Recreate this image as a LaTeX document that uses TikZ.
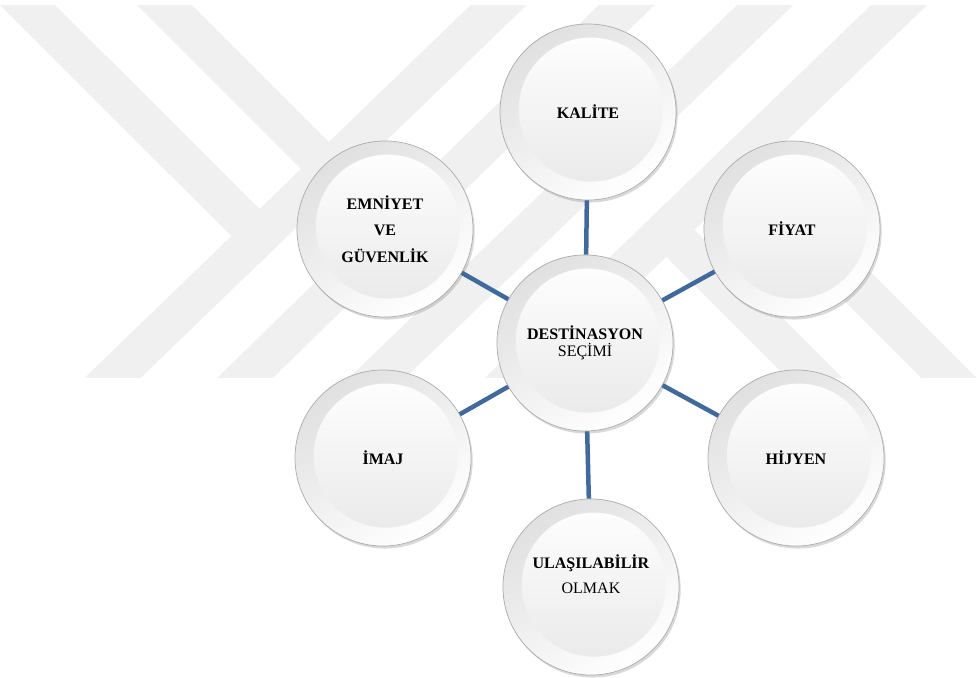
\documentclass[tikz,border=0pt]{standalone}
\usepackage{fontspec}
\setmainfont{Liberation Serif}
\usetikzlibrary{shadows}
\definecolor{spokeblue}{RGB}{64,106,156}
\definecolor{markgray}{RGB}{240,240,240}
\tikzstyle{bubble} = [circle, minimum size=4.4cm, inner sep=0pt, align=center, draw=gray!65,
line width=0.5pt, shade, top color=gray!24, bottom color=white, shading angle=35,
drop shadow={opacity=0.3, shadow xshift=1.2pt, shadow yshift=-1.8pt},
path picture={\shade[top color=white, bottom color=gray!18]
([shift={(0.07cm,0.06cm)}]path picture bounding box.center) circle (1.8cm);},
font=\fontsize{11.4}{13}\selectfont]
\tikzstyle{spoke} = [line width=3.2pt, draw=spokeblue]
\tikzstyle{markband} = [line width=0.975cm, draw=markgray]

\begin{document}
\begin{tikzpicture}[x=0.025cm, y=-0.025cm]
    \useasboundingbox (0,0) rectangle (977,677);

    % faint background mark
    \begin{scope}
        \clip (0,5) rectangle (977,377);
        \draw[markband] (524.6,-20) -- (89.7,400);
        \draw[markband] (652.2,-20) -- (222.5,400);
        \draw[markband] (791.2,-20) -- (354,400);
        \draw[markband] (925,-20) -- (490,400);
        \draw[markband] (2.5,-20) -- (273,250);
        \draw[markband] (139.5,-20) -- (342.5,183);
        \draw[markband] (653,216) -- (837,400);
        \draw[markband] (721,150) -- (971,400);
    \end{scope}

    \node (centre) [bubble] at (585,343) {\textbf{DESTİNASYON}\\[-1pt]SEÇİMİ};
    \node (kalite) [bubble] at (588,112) {\textbf{KALİTE}};
    \node (fiyat) [bubble] at (792,229) {\textbf{FİYAT}};
    \node (hijyen) [bubble] at (796,458) {\textbf{HİJYEN}};
    \node (ulasim) [bubble] at (591,587) {\textbf{ULAŞILABİLİR}\\[4.8pt]OLMAK\\[2pt]\strut};
    \node (imaj) [bubble] at (383,458) {\textbf{İMAJ}};
    \node (emniyet) [bubble] at (385,229) {\textbf{EMNİYET}\\[6pt]\textbf{VE}\\[6pt]\textbf{GÜVENLİK}};

    \draw[spoke] (centre) -- (kalite);
    \draw[spoke] (centre) -- (fiyat);
    \draw[spoke] (centre) -- (hijyen);
    \draw[spoke] (centre) -- (ulasim);
    \draw[spoke] (centre) -- (imaj);
    \draw[spoke] (centre) -- (emniyet);

\end{tikzpicture}
\end{document}
